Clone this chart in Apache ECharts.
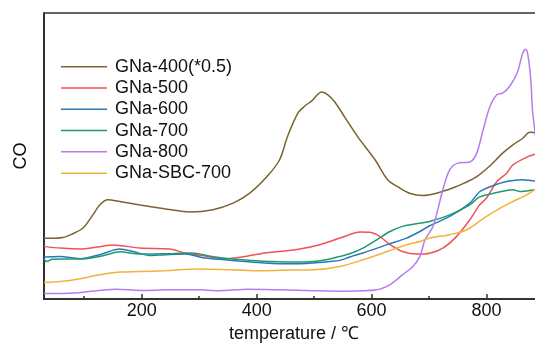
<!DOCTYPE html>
<html><head><meta charset="utf-8">
<script src="https://cdn.jsdelivr.net/npm/echarts@6/dist/echarts.min.js"></script>
<style>html,body{margin:0;padding:0;background:#fff}#c{width:535px;height:344px}</style>
</head><body><div id="c"></div>
<script>
// temperature (°C), CO signal (arbitrary units 0-100)
const seriesNames = ['GNa-400(*0.5)','GNa-500','GNa-600','GNa-700','GNa-800','GNa-SBC-700'];
const xLabelValues = [200,400,600,800];
const xMinorTicks = [100,300,500,700];

const gna400 = [[30,21.2],[63,21.5],[80,22.8],[98,24.8],[115,29.4],[127,32.9],[141,34.7],[162,34.1],[197,32.9],[244,31.4],[284,30.4],[324,31.2],[359,33.5],[388,37.0],[418,42.8],[440,48.7],[454,57.0],[472,65.1],[484,67.5],[496,69.3],[513,72.4],[524,71.4],[536,68.9],[553,63.7],[576,56.7],[606,48.7],[628,41.7],[646,39.2],[666,37.0],[689,36.2],[713,37.0],[741,38.8],[762,40.6],[783,42.8],[806,46.6],[828,51.0],[846,53.9],[863,56.2],[875,58.3],[884,58.2],[900,58.0]];
const gna500 = [[30,18.4],[58,17.8],[98,17.5],[127,18.3],[150,18.9],[197,17.8],[249,17.5],[275,16.1],[315,14.9],[345,14.1],[380,14.9],[414,16.1],[444,16.7],[475,17.5],[510,19.0],[545,21.3],[580,23.4],[597,23.3],[614,21.9],[632,19.0],[654,16.6],[679,15.7],[701,16.0],[724,17.8],[748,21.9],[771,27.7],[788,32.9],[800,35.3],[818,41.1],[835,44.0],[846,46.9],[870,49.6],[884,50.6],[900,51.5]];
const gna600 = [[30,14.7],[58,14.9],[93,14.1],[127,15.5],[162,17.5],[185,16.6],[214,15.2],[240,15.5],[275,15.7],[310,14.3],[345,13.7],[380,13.1],[414,12.6],[458,12.3],[498,12.6],[527,13.1],[545,13.5],[562,14.7],[585,16.1],[627,19.0],[661,21.3],[684,23.6],[701,25.6],[736,28.9],[771,33.5],[788,37.5],[811,39.6],[835,41.1],[863,41.7],[884,41.3],[900,41.3]];
const gna700 = [[30,14.0],[35,13.1],[44,13.9],[63,14.0],[98,14.0],[133,15.1],[162,16.5],[197,15.7],[240,15.8],[287,16.1],[322,14.9],[357,14.0],[392,13.5],[427,13.1],[467,12.9],[498,13.1],[527,14.0],[545,14.9],[562,15.8],[585,17.8],[609,20.7],[632,23.6],[654,25.4],[684,26.5],[701,27.1],[736,29.4],[771,32.9],[788,35.7],[818,37.2],[846,38.2],[858,37.6],[884,38.2],[900,38.5]];
const gna800 = [[30,1.9],[80,2.1],[122,2.9],[157,3.4],[197,3.0],[249,3.2],[298,3.2],[333,2.9],[385,3.4],[440,3.2],[498,2.9],[557,2.7],[609,3.2],[632,5.0],[654,8.5],[672,11.4],[684,14.9],[693,20.7],[707,25.4],[724,38.2],[736,45.2],[750,47.5],[771,47.9],[783,51.0],[794,59.1],[806,67.3],[818,71.4],[828,72.0],[840,74.3],[853,78.9],[863,85.9],[868,87.3],[872,85.3],[877,76.6],[880,66.1],[884,59.1],[893,45.2],[900,38.0]];
const gnaSbc700 = [[30,5.8],[58,6.1],[93,7.1],[127,8.5],[162,9.4],[197,9.6],[240,9.9],[298,10.5],[357,10.2],[414,9.9],[458,10.1],[498,10.2],[545,11.4],[585,13.7],[627,16.6],[661,19.0],[684,20.1],[701,21.3],[736,22.5],[766,24.2],[800,28.9],[840,33.5],[870,36.4],[884,38.2],[900,40.0]];

const seriesData = [gna400, gna500, gna600, gna700, gna800, gnaSbc700];
const colors = ['#7a6330','#f0525a','#2a78b8','#1f9a6e','#b57cf0','#f2b23c'];

const FONT = '"Liberation Sans", Arial, sans-serif';
const chart = echarts.init(document.getElementById('c'), null, {renderer:'canvas'});
chart.setOption({
  animation:false,
  backgroundColor:'#fff',
  grid:{left:44, top:13, right:-9, bottom:45, outerBoundsMode:'none', containLabel:false,
        show:true, borderColor:'#333', borderWidth:1.5},
  legend:{
    orient:'vertical', left:61, top:56, padding:0, itemWidth:46, itemHeight:12, itemGap:0,
    icon:'path://M0,5 L46,5 L46,6.5 L0,6.5 Z',
    textStyle:{fontFamily:FONT, fontSize:18, color:'#111', lineHeight:21.3, padding:[0,0,0,3]},
    data:seriesNames
  },
  xAxis:[{
    type:'value', min:30, max:900,
    name:'temperature / ℃', nameLocation:'middle', nameGap:20,
    nameTextStyle:{fontFamily:FONT, fontSize:18, color:'#111', verticalAlign:'top'},
    axisLine:{show:true, lineStyle:{color:'#333', width:2}},
    axisTick:{show:true, inside:true, length:5, customValues:xLabelValues, lineStyle:{color:'#333', width:1.5}},
    axisLabel:{show:true, customValues:xLabelValues, margin:3, fontFamily:FONT, fontSize:18, color:'#111'},
    splitLine:{show:false}
  },{
    type:'value', min:30, max:900, position:'bottom',
    axisLine:{show:false},
    axisTick:{show:true, inside:true, length:3, customValues:xMinorTicks, lineStyle:{color:'#333', width:1.5}},
    axisLabel:{show:false},
    splitLine:{show:false}
  }],
  yAxis:{
    type:'value', min:0, max:100,
    name:'CO', nameLocation:'middle', nameGap:14,
    nameTextStyle:{fontFamily:FONT, fontSize:18, color:'#111'},
    axisLine:{show:true, lineStyle:{color:'#222', width:1.5}},
    axisTick:{show:false}, axisLabel:{show:false}, splitLine:{show:false}
  },
  series: seriesNames.map((n,i)=>({
    name:n, type:'line', data:seriesData[i], showSymbol:false, symbol:'none',
    smooth:0.3, xAxisIndex:0,
    lineStyle:{color:colors[i], width:1.5}, itemStyle:{color:colors[i]}
  }))
});
</script></body></html>
